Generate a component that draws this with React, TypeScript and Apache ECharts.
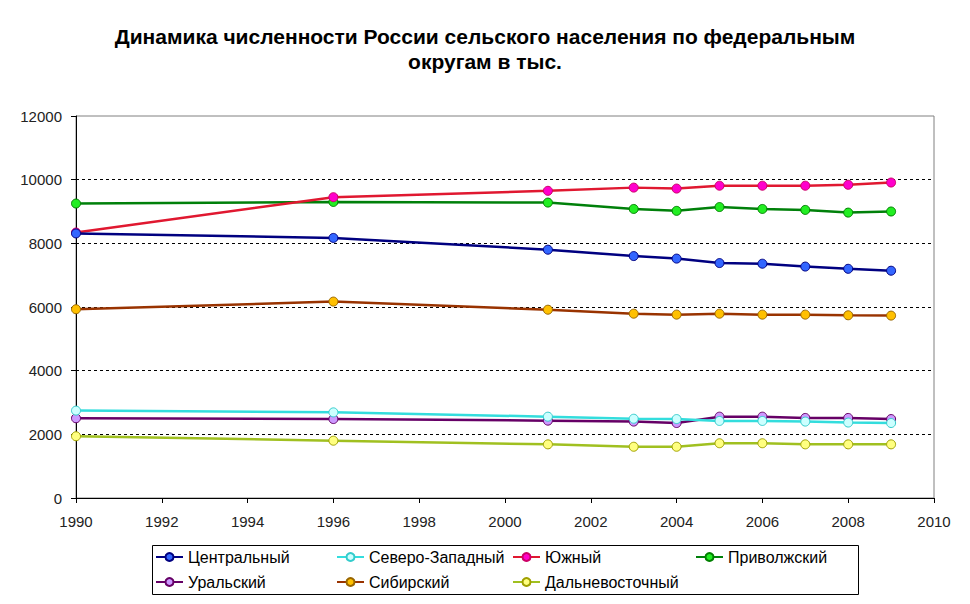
import React, { useEffect, useRef } from "react";
import * as echarts from "echarts";

const years = [1990, 1996, 2001, 2003, 2004, 2005, 2006, 2007, 2008, 2009];
const seriesNames = ["Центральный", "Северо-Западный", "Южный", "Приволжский", "Уральский", "Сибирский", "Дальневосточный"];
const central = [8310, 8170, 7800, 7600, 7520, 7380, 7360, 7270, 7200, 7140];
const northWest = [2745, 2690, 2555, 2490, 2480, 2420, 2420, 2400, 2370, 2355];
const south = [8340, 9450, 9650, 9750, 9720, 9810, 9810, 9810, 9840, 9910];
const volga = [9250, 9300, 9280, 9080, 9020, 9140, 9080, 9050, 8965, 9000];
const ural = [2505, 2480, 2430, 2400, 2355, 2555, 2555, 2515, 2515, 2480];
const siberia = [5930, 6170, 5915, 5790, 5760, 5790, 5760, 5760, 5740, 5730];
const farEast = [1940, 1800, 1685, 1610, 1610, 1720, 1720, 1685, 1685, 1685];
const titleText = "Динамика численности России сельского населения по федеральным\nокругам в тыс.";

const FONT = "'Liberation Sans', Arial, sans-serif";

export default function App() {
  const ref = useRef<HTMLDivElement>(null);
  useEffect(() => {
    if (!ref.current) return;
    const chart = echarts.init(ref.current, undefined, { renderer: "svg" });
    const values = [central, northWest, south, volga, ural, siberia, farEast];
    const lineColors = ["#000080", "#33DDDD", "#E01830", "#00800A", "#660066", "#993300", "#A0C020"];
    const fillColors = ["#3366FF", "#CCFFFF", "#FF00CC", "#22EE22", "#CC99FF", "#FFC000", "#FFFF80"];
    const borderColors = ["#000080", "#33CCCC", "#CC0066", "#008000", "#660066", "#996600", "#A0A000"];
    const legendPos = [
      [155, 549], [336, 549], [512, 549], [695, 549],
      [155, 574], [336, 574], [512, 574],
    ];
    const series = seriesNames.map((name, i) => ({
      name,
      type: "line",
      data: years.map((y, j) => [y, values[i][j]]),
      symbol: "circle",
      symbolSize: 9,
      lineStyle: { color: lineColors[i], width: 2.5 },
      itemStyle: { color: fillColors[i], borderColor: borderColors[i], borderWidth: 1 },
      z: 10 - i,
    }));
    chart.setOption({
      animation: false,
      backgroundColor: "#ffffff",
      title: {
        text: titleText,
        left: "center",
        top: 24,
        padding: 0,
        textStyle: { fontFamily: FONT, fontSize: 21, fontWeight: "bold", color: "#000", lineHeight: 25 },
      },
      grid: {
        left: 76, right: 36, top: 116, bottom: 106,
        show: true, borderColor: "#808080", borderWidth: 1, backgroundColor: "transparent",
      },
      xAxis: {
        type: "value",
        min: 1990, max: 2010, interval: 2,
        axisLine: { show: true, lineStyle: { color: "#000", width: 1 } },
        axisTick: { show: true, length: 5, lineStyle: { color: "#000" } },
        axisLabel: { fontFamily: FONT, fontSize: 15, color: "#222", margin: 16, formatter: (v: number) => String(v) },
        splitLine: { show: false },
      },
      yAxis: {
        type: "value",
        min: 0, max: 12000, interval: 2000,
        axisLine: { show: true, lineStyle: { color: "#000", width: 1 } },
        axisTick: { show: true, length: 5, lineStyle: { color: "#000" } },
        axisLabel: { fontFamily: FONT, fontSize: 15, color: "#222", margin: 14, formatter: (v: number) => String(v) },
        splitLine: { show: true, showMinLine: false, showMaxLine: false, lineStyle: { color: "#000", type: [3, 3], width: 1 } },
      },
      legend: seriesNames.map((name, i) => ({
        data: [name],
        left: legendPos[i][0],
        top: legendPos[i][1],
        itemWidth: 27,
        itemHeight: 10,
        itemGap: 0,
        padding: 0,
        textStyle: { fontFamily: FONT, fontSize: 16, color: "#000" },
      })),
      graphic: [
        {
          type: "rect",
          shape: { x: 152.5, y: 545.5, width: 706, height: 49 },
          style: { fill: "none", stroke: "#000", lineWidth: 1 },
          silent: true,
        },
      ],
      series,
    });
    return () => chart.dispose();
  }, []);
  return (
    <div
      ref={ref}
      style={{ position: "absolute", left: 0, top: 0, width: 970, height: 604 }}
    />
  );
}
